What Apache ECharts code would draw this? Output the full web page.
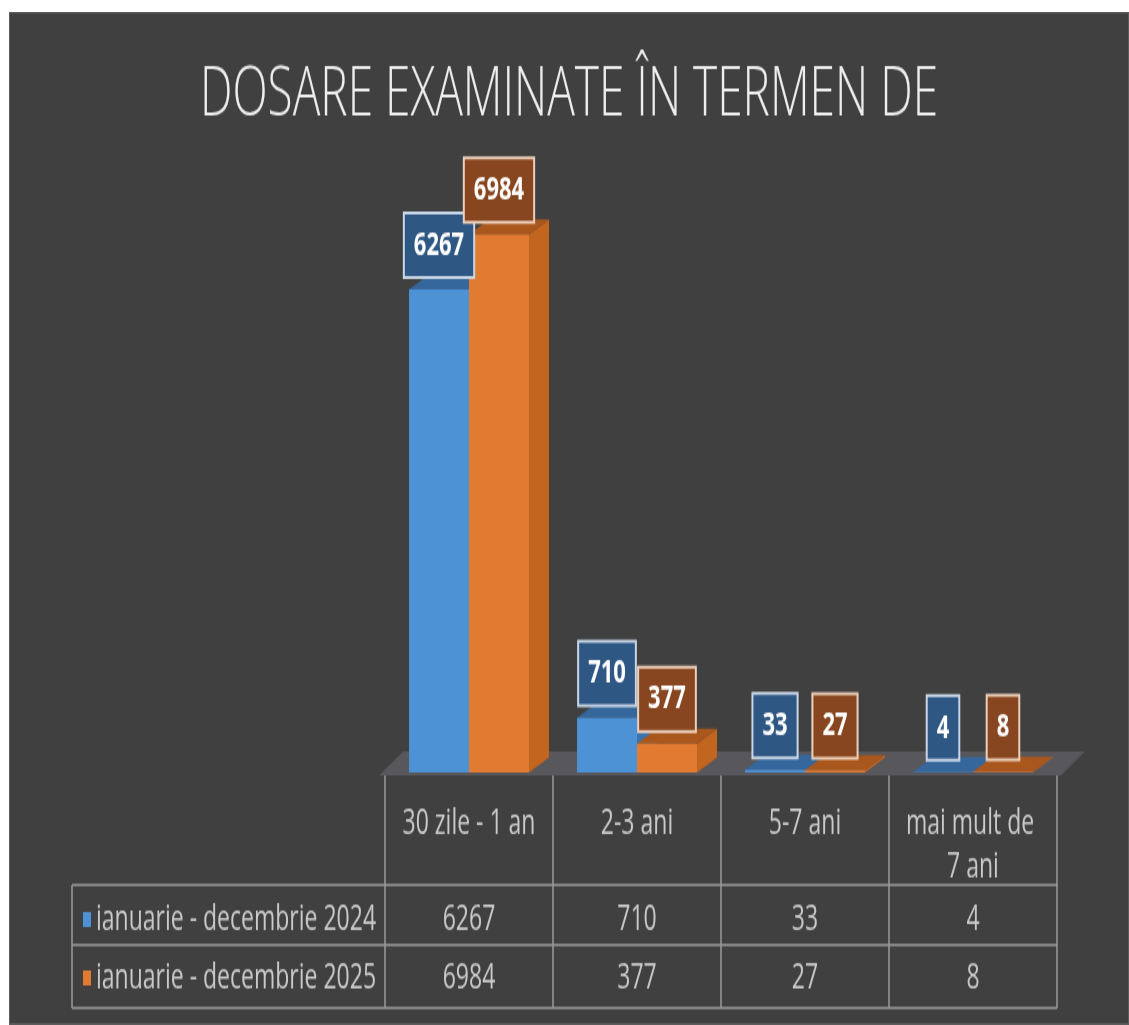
<!DOCTYPE html>
<html>
<head>
<meta charset="utf-8">
<script src="https://cdn.jsdelivr.net/npm/echarts@6/dist/echarts.min.js"></script>
<style>
  html, body { margin: 0; padding: 0; background: #ffffff; width: 1129px; height: 1025px; overflow: hidden; }
  #chart { position: absolute; left: 9px; top: 12px; width: 1120px; height: 675px;
           transform: scaleY(1.5); transform-origin: 0 0; }
</style>
</head>
<body>
<div id="chart"></div>
<script>
// ---- data ----
const titleText = 'DOSARE EXAMINATE ÎN TERMEN DE';
const categories = ['30 zile - 1 an', '2-3 ani', '5-7 ani', 'mai mult de 7 ani'];
const seriesNames = ['ianuarie - decembrie 2024', 'ianuarie - decembrie 2025'];
const values2024 = [6267, 710, 33, 4];
const values2025 = [6984, 377, 27, 8];

// ---- style ----
const FONT = '"Open Sans", "Liberation Sans", sans-serif';
const TEXT_GRAY = '#cacaca';
const LINE_GRAY = '#9a9a9a';
const DEPTH_X = 20, DEPTH_Y = 10;
const BAR_RATIO = 0.357;
const palette = [
  { front: '#4e92d6', top: '#35679c', side: '#3a74ae', labelBg: '#2f5784', labelBorder: '#c9d6e6' },
  { front: '#e27b32', top: '#a9571d', side: '#c2651f', labelBg: '#87461f', labelBorder: '#ecd0bb' }
];

function renderBar3D(sIdx) {
  const c = palette[sIdx];
  return function (params, api) {
    const cat = api.value(0), val = api.value(1);
    const base = api.coord([cat, 0]);
    const top = api.coord([cat, val]);
    const band = api.size([1, 0])[0];
    const bw = band * BAR_RATIO;
    const x0 = sIdx === 0 ? base[0] - bw : base[0];
    const x1 = x0 + bw;
    const y0 = base[1], y1 = top[1];
    return {
      type: 'group',
      children: [
        { type: 'polygon', shape: { points: [[x1, y0], [x1 + DEPTH_X, y0 - DEPTH_Y], [x1 + DEPTH_X, y1 - DEPTH_Y], [x1, y1]] }, style: { fill: c.side } },
        { type: 'polygon', shape: { points: [[x0, y1], [x1, y1], [x1 + DEPTH_X, y1 - DEPTH_Y], [x0 + DEPTH_X, y1 - DEPTH_Y]] }, style: { fill: c.top } },
        { type: 'rect', shape: { x: x0, y: y1, width: bw, height: y0 - y1 }, style: { fill: c.front } },
        { type: 'text', z2: 100, x: (x0 + x1) / 2, y: y1 - 9,
          style: { text: String(val), fill: '#ffffff', fontFamily: FONT, fontWeight: 'bold', fontSize: 22,
                   align: 'center', verticalAlign: 'bottom', lineHeight: 23,
                   backgroundColor: c.labelBg, borderColor: c.labelBorder, borderWidth: 2, padding: [9, 9] } }
      ]
    };
  };
}

function renderFloor(params, api) {
  const cs = params.coordSys;
  const yb = cs.y + cs.height;
  return {
    type: 'polygon',
    shape: { points: [[cs.x - 6, yb + 2], [cs.x + cs.width + 4, yb + 2], [cs.x + cs.width + DEPTH_X + 8, yb - DEPTH_Y - 4], [cs.x + DEPTH_X - 2, yb - DEPTH_Y - 4]] },
    style: { fill: '#57575c' }
  };
}

const chart = echarts.init(document.getElementById('chart'));
const tableRowAxis = (vals, margin) => ({
  type: 'category', gridIndex: 0, position: 'bottom', data: categories,
  axisLine: { show: false }, axisTick: { show: false }, splitLine: { show: false },
  axisLabel: { interval: 0, margin: margin, verticalAlign: 'middle', color: TEXT_GRAY, fontFamily: FONT, fontSize: 23,
               formatter: (v, i) => String(vals[i]) }
});

chart.setOption({
  backgroundColor: '#404040',
  animation: false,
  title: {
    text: titleText, left: 'center', top: 26, padding: [5, 0, 5, 14],
    textStyle: { color: '#eeeeee', fontFamily: FONT, fontWeight: 300, fontSize: 46, lineHeight: 50 }
  },
  legend: {
    data: seriesNames, orient: 'vertical', left: 74, top: 593, padding: 0,
    itemWidth: 8, itemHeight: 10, itemGap: 15, icon: 'rect',
    textStyle: { color: TEXT_GRAY, fontFamily: FONT, fontSize: 23, lineHeight: 24 },
    selectedMode: false
  },
  grid: { left: 376, right: 72, top: 96, bottom: 168 },
  xAxis: [
    {
      type: 'category', data: categories, gridIndex: 0, position: 'bottom',
      axisLine: { show: false },
      axisTick: { show: true, interval: 0, length: 157, lineStyle: { color: LINE_GRAY, width: 1.5 } },
      axisLabel: { interval: 0, margin: 20, color: TEXT_GRAY, fontFamily: FONT, fontSize: 23, lineHeight: 28.7,
                   width: 138, overflow: 'break' },
      splitLine: { show: false }
    },
    tableRowAxis(values2024, 98),
    tableRowAxis(values2025, 137)
  ],
  yAxis: { type: 'value', min: 0, max: 8000, show: false, splitLine: { show: false } },
  graphic: [
    { type: 'rect', shape: { x: 0, y: 0, width: 1120, height: 675 }, style: { fill: 'none', stroke: '#5c5c5c', lineWidth: 2 }, silent: true },
    { type: 'line', shape: { x1: 63, y1: 582, x2: 1048, y2: 582 }, style: { stroke: LINE_GRAY, lineWidth: 1.3 } },
    { type: 'line', shape: { x1: 63, y1: 622, x2: 1048, y2: 622 }, style: { stroke: LINE_GRAY, lineWidth: 1.3 } },
    { type: 'line', shape: { x1: 63, y1: 664, x2: 1048, y2: 664 }, style: { stroke: LINE_GRAY, lineWidth: 1.3 } },
    { type: 'line', shape: { x1: 63, y1: 582, x2: 63, y2: 664 }, style: { stroke: LINE_GRAY, lineWidth: 1.5 } }
  ],
  series: [
    { type: 'custom', name: 'floor', silent: true, z: 1, xAxisIndex: 0, yAxisIndex: 0,
      renderItem: renderFloor, data: [[0, 0]] },
    { type: 'custom', name: seriesNames[0], xAxisIndex: 0, yAxisIndex: 0,
      itemStyle: { color: palette[0].front }, renderItem: renderBar3D(0),
      encode: { x: 0, y: 1 }, data: values2024.map((v, i) => [i, v]) },
    { type: 'custom', name: seriesNames[1], xAxisIndex: 0, yAxisIndex: 0,
      itemStyle: { color: palette[1].front }, renderItem: renderBar3D(1),
      encode: { x: 0, y: 1 }, data: values2025.map((v, i) => [i, v]) }
  ]
});
</script>
</body>
</html>
